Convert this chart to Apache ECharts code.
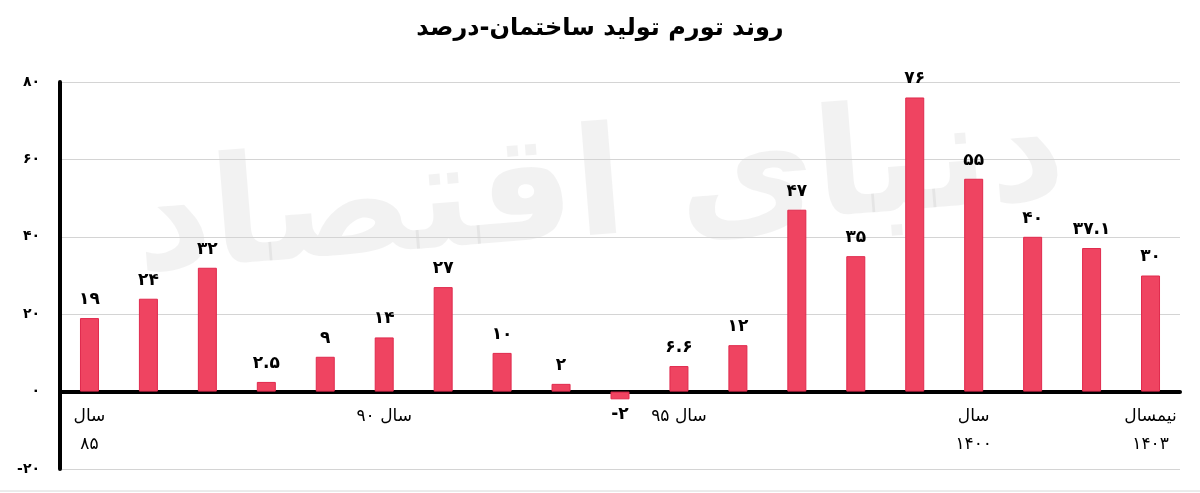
<!DOCTYPE html>
<html><head><meta charset="utf-8">
<script src="https://cdn.jsdelivr.net/npm/echarts@6/dist/echarts.min.js"></script>
<style>html,body{margin:0;padding:0;background:#fff}#c{width:1200px;height:493px}</style>
</head><body><div id="c"></div>
<script>
const categories = ['سال\n85','','','','','سال 90','','','','','سال 95','','','','','سال\n1400','','','نیمسال\n1403'];
const values = [19,24,32,2.5,9,14,27,10,2,-2,6.6,12,47,35,76,55,40,37.1,30];
const yTicks = {min:-20,max:80,interval:20};
const titleText = 'روند تورم تولید ساختمان-درصد';
const watermark = 'دنیای اقتصاد';

const fa = s => String(s).replace(/[0-9]/g, d => '۰۱۲۳۴۵۶۷۸۹'[+d]);
const FONT = 'DejaVu Sans';

const chart = echarts.init(document.getElementById('c'));
chart.setOption({
  animation:false,
  backgroundColor:'#fff',
  grid:{left:60,right:20,top:82,bottom:24,containLabel:false,outerBoundsMode:'none'},
  graphic:[
    {type:'text',left:'center',top:17,style:{text:titleText,font:'bold 24px "'+FONT+'"',fill:'#000'},z:10},
    {type:'text',x:600,y:195,rotation:0.08,z:0,style:{text:watermark,font:'bold 150px "'+FONT+'"',fill:'rgba(0,0,0,0.05)',align:'center',verticalAlign:'middle'}},
    {type:'line',shape:{x1:0,y1:491,x2:1200,y2:491},style:{stroke:'#d8d8d8',lineWidth:1},z:0}
  ],
  xAxis:[
    {type:'category',data:categories,
      axisLine:{onZero:true,lineStyle:{color:'#000',width:4}},
      axisTick:{show:false},axisLabel:{show:false}
    },
    {type:'category',data:categories,position:'bottom',offset:-78,
      axisLine:{show:false},axisTick:{show:false},splitLine:{show:false},
      axisLabel:{interval:0,margin:12,fontFamily:FONT,fontSize:17,color:'#000',lineHeight:28,formatter:v=>fa(v)}
    }
  ],
  yAxis:{type:'value',min:yTicks.min,max:yTicks.max,interval:yTicks.interval,
    axisLine:{show:true,lineStyle:{color:'#000',width:4}},
    axisTick:{show:false},
    splitLine:{lineStyle:{color:'#d4d4d4',width:1}},
    axisLabel:{margin:20,fontFamily:FONT,fontSize:14,fontWeight:'bold',color:'#000',formatter:v=>fa(v)}
  },
  series:[{type:'bar',xAxisIndex:0,barWidth:19,z:3,
    data:values.map(v=>({value:v,label:v<0?{position:'bottom',distance:7}:{position:'top'}})),
    itemStyle:{color:'#ef4461',borderColor:'#e02a4d',borderWidth:1},
    label:{show:true,distance:10,fontFamily:FONT,fontSize:17,fontWeight:'bold',color:'#000',formatter:p=>fa(p.value)}
  }]
});
</script></body></html>
